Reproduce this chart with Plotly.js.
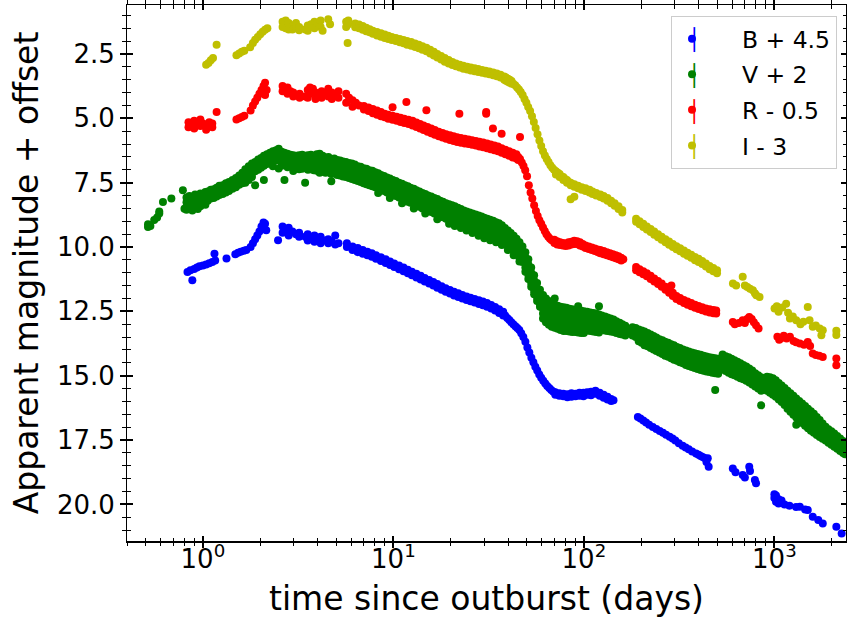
<!DOCTYPE html>
<html><head><meta charset="utf-8">
<script src="https://cdn.plot.ly/plotly-3.0.1.min.js"></script>
<style>html,body{margin:0;padding:0;background:#fff}</style>
</head><body>
<div id="chart" style="width:847px;height:626px"></div>
<script>
// ---- data: rows of [time (days), magnitude, magnitude, ...] ----
const seriesNames = ['B + 4.5', 'V + 2', 'R - 0.5', 'I - 3'];
const seriesColors = ['#0000ff', '#008000', '#ff0000', '#bfbf00'];

const rowsB = [
[0.83,10.97],[0.86,10.90],[0.88,11.29],[0.90,10.85],[0.93,10.80],[0.96,10.75],[1.00,10.72],[1.04,10.68],[1.08,10.63],[1.12,10.58],[1.15,10.26],[1.16,10.52],[1.33,10.45],
[1.48,10.28],[1.53,10.22],[1.58,10.18],[1.64,10.15],[1.69,10.12],
[1.78,10.00],[1.83,9.85],[1.88,9.70],[1.93,9.55],[1.98,9.40],[2.03,9.20],[2.08,9.05],[2.12,9.10],[2.15,9.35],[2.48,9.74],
[2.62,9.20,9.45],[2.72,9.30],[2.82,9.25,9.55],[2.95,9.40],[3.08,9.50],[3.20,9.45,9.60],
[3.45,9.60],[3.55,9.50,9.75],[3.70,9.65],[3.85,9.55,9.80],[4.00,9.70],[4.15,9.60,9.85],[4.35,9.75],[4.55,9.70,9.85],[4.75,9.80],[4.95,9.55,9.90],[5.15,9.85],
[5.7,9.85,10.0],[6.1,9.98,10.12],[6.5,10.04,10.20],[6.9,10.12,10.26],[7.3,10.18,10.32],[7.7,10.24,10.38],[8.1,10.32,10.46],[8.6,10.40,10.54],[9.1,10.48,10.62],[9.6,10.56,10.70],
[10.1,10.64,10.78],[10.7,10.72,10.86],[11.3,10.80,10.94],[11.9,10.88,11.02],[12.5,10.96,11.10],[13.2,11.04,11.18],[13.9,11.12,11.26],[14.6,11.20,11.34],[15.4,11.28,11.42],[16.2,11.36,11.50],
[17.0,11.44,11.58],[17.9,11.52,11.66],[18.8,11.60,11.74],[19.8,11.67,11.81],[20.8,11.74,11.88],[21.9,11.80,11.94],[23.0,11.86,12.00],[24.2,11.92,12.06],[25.4,11.97,12.11],[26.7,12.02,12.16],
[28.1,12.07,12.21],[29.5,12.12,12.26],[31.0,12.18,12.32],[32.6,12.25,12.39],[34.2,12.33,12.47],[35.9,12.42,12.56],[37.7,12.52,12.66],[38.6,12.66],[39.6,12.76],[40.6,12.84],
[41.6,12.92],[42.6,13.00],[43.7,13.08],[44.7,13.15],[45.8,13.22],[46.9,13.35],[48.1,13.50],[49.3,13.68],[50.5,13.90],[51.7,14.10],[53.0,14.30],[54.3,14.48],[55.6,14.65],
[56.9,14.80],[58.3,14.95],[59.7,15.08],[61.2,15.20],[62.7,15.30],[64.2,15.40],[65.8,15.48],[67.4,15.55],[69.1,15.62],[70.8,15.64,15.74],[74.3,15.68,15.78],[78.0,15.70,15.80],
[81.9,15.72,15.84],[86.0,15.68,15.82],[90.3,15.70,15.80],[94.8,15.66,15.78],[99.5,15.66,15.80],[104,15.64,15.74],[109,15.62,15.76],[115,15.58,15.70],[121,15.66,15.78],
[127,15.74,15.86],[133,15.82,15.92],[139,15.90,15.98],[143,15.95],
[192,16.60],[198,16.66],[205,16.74],[212,16.82],[220,16.90],[230,16.99],[240,17.07],[250,17.15],[260,17.22],[270,17.29],[282,17.37],[292,17.44],[302,17.52],
[315,17.62],[330,17.72],[342,17.79],[355,17.86],[370,17.94],[388,18.02],[400,18.07],[410,18.12],[420,18.16],[430,18.20],[440,18.35],[447,18.21],[452,18.54],
[605,18.60],[625,18.75],[682,18.86],[700,18.95],[738,18.54],[745,18.70],[790,19.05],[801,19.18],
[1000,19.75,19.60],[1020,19.90,19.65],[1052,19.96,19.80],[1090,19.85],[1130,20.00],[1200,20.05],[1300,20.10],[1360,20.09],[1450,20.20],[1497,20.22],[1590,20.48],[1700,20.60],[1795,20.74],[2115,20.87],[2255,21.13]
];

const rowsV = [
[0.515,9.22,9.12],[0.53,9.18],[0.555,8.95],[0.575,8.85],[0.59,8.70,8.62],[0.617,8.25],[0.683,8.12],[0.785,7.80],[0.80,8.51],
[0.82,8.08,8.26,8.44,8.55],[0.85,8.02,8.20,8.36,8.50],[0.88,8.05,8.22,8.40,8.58],[0.91,7.96,8.14,8.30,8.47],[0.94,8.00,8.18,8.35,8.52],[0.97,7.92,8.10,8.28,8.42],
[1.00,7.94,8.12,8.30],[1.03,7.86,8.04,8.22,8.36],[1.06,7.84,8.02,8.20],[1.10,7.78,7.95,8.12],[1.14,7.76,7.92,8.10],[1.18,7.70,7.86,8.04],[1.22,7.62,7.80,7.98],
[1.27,7.60,7.76,7.94],[1.32,7.52,7.70,7.88],[1.37,7.48,7.64,7.82],[1.43,7.40,7.57,7.74],[1.49,7.32,7.50,7.68],[1.55,7.22,7.40,7.58],[1.61,7.12,7.32,7.52],
[1.67,6.98,7.16,7.34,7.50],[1.74,6.86,7.05,7.24,7.40],[1.81,6.76,6.95,7.14,7.28],[1.88,6.70,6.88,7.06,7.60],[1.95,6.60,6.80,7.00],[2.02,6.54,6.72,6.92],
[2.09,6.46,6.64,6.84,7.40],[2.17,6.40,6.58,6.78],[2.25,6.34,6.54,6.74],[2.33,6.28,6.48,6.68,6.86],[2.42,6.24,6.44,6.64],[2.50,6.18,6.38,6.58,6.95],
[2.59,6.30,6.50,6.70,6.84],[2.68,6.34,6.54,6.74,7.40],[2.78,6.38,6.58,6.78,6.90],[2.88,6.42,6.62,6.82],[2.98,6.44,6.64,6.84,7.05],[3.09,6.46,6.66,6.86],
[3.20,6.44,6.64,6.84,6.98],[3.32,6.42,6.62,6.82,6.96],[3.44,6.46,6.66,6.86,7.50],[3.56,6.44,6.64,6.84,7.00],[3.69,6.42,6.62,6.82,6.98],[3.82,6.48,6.68,6.88,7.02],
[3.96,6.40,6.60,6.80,7.04],[4.10,6.38,6.58,6.78,6.98,7.12],[4.25,6.46,6.66,6.86,7.08],[4.40,6.52,6.72,6.92,7.12],[4.56,6.50,6.70,6.90,7.10],[4.72,6.58,6.78,6.98,7.16,7.45],
[4.89,6.56,6.76,6.96,7.14],[5.07,6.62,6.82,7.02,7.20],[5.25,6.64,6.84,7.04,7.22],[5.44,6.68,6.88,7.08,7.26],[5.64,6.70,6.90,7.10,7.28],[5.84,6.74,6.94,7.14,7.32],
[6.05,6.76,6.96,7.16,7.36],[6.27,6.80,7.00,7.20,7.40],[6.50,6.86,7.06,7.26,7.44],[6.73,6.88,7.08,7.28,7.48],[6.97,6.94,7.14,7.34,7.52],[7.22,6.96,7.16,7.36,7.56],
[7.48,7.02,7.22,7.42,7.60],[7.75,7.04,7.24,7.44,7.64],[8.03,7.10,7.30,7.50,7.68],[8.32,7.14,7.34,7.54,7.72,7.90],[8.62,7.20,7.40,7.60,7.78],[8.93,7.24,7.44,7.64,7.82],
[9.25,7.30,7.50,7.70,7.88],[9.58,7.34,7.54,7.74,7.92,8.10],[9.93,7.40,7.60,7.80,7.98],[10.3,7.44,7.64,7.84,8.02],[10.7,7.50,7.70,7.90,8.08],[11.1,7.54,7.74,7.94,8.12,8.30],
[11.5,7.60,7.80,8.00,8.18],[11.9,7.64,7.84,8.04,8.24],[12.3,7.70,7.90,8.10,8.28],[12.8,7.74,7.94,8.14,8.34,8.50],[13.2,7.80,8.00,8.20,8.40],[13.7,7.84,8.04,8.24,8.44],
[14.2,7.90,8.10,8.30,8.50],[14.7,7.94,8.14,8.34,8.54,8.70],[15.2,8.00,8.20,8.40,8.60],[15.8,8.04,8.24,8.44,8.64],[16.4,8.10,8.30,8.50,8.70],[17.0,8.14,8.34,8.54,8.74,8.92],
[17.6,8.20,8.40,8.60,8.80],[18.2,8.24,8.44,8.64,8.84],[18.9,8.30,8.50,8.70,8.90],[19.6,8.34,8.54,8.74,8.94,9.10],[20.3,8.38,8.58,8.78,8.98],[21.0,8.42,8.62,8.82,9.02,9.18],
[21.8,8.48,8.68,8.88,9.08],[22.6,8.52,8.72,8.92,9.12,9.26],[23.4,8.58,8.78,8.98,9.18],[24.2,8.62,8.82,9.02,9.22,9.36],[25.1,8.66,8.86,9.06,9.26],[26.0,8.70,8.90,9.10,9.30,9.46],
[27.0,8.74,8.94,9.14,9.34],[28.0,8.78,8.98,9.18,9.38,9.56],[29.0,8.82,9.02,9.22,9.42],[30.0,8.86,9.06,9.26,9.46,9.66],[31.1,8.90,9.10,9.30,9.50],[32.2,8.94,9.14,9.34,9.54,9.74],
[33.4,8.98,9.18,9.38,9.58],[34.6,9.04,9.24,9.44,9.64,9.82],[35.8,9.08,9.28,9.48,9.68],[37.1,9.16,9.36,9.56,9.76,9.92],[38.5,9.26,9.46,9.66,9.86],[39.9,9.36,9.56,9.76,9.96,10.12],
[41.3,9.46,9.66,9.86,10.06],[42.8,9.56,9.76,9.96,10.16,10.32],[44.3,9.68,9.88,10.08,10.28],[45.9,9.82,10.02,10.22,10.42,10.56],[47.6,9.98,10.18,10.38,10.58],
[49.3,10.20,10.40,10.60,10.80,10.96],[51.1,10.48,10.68,10.88,11.08,11.24],[52.9,10.80,11.00,11.20,11.40,11.54],[54.8,11.10,11.30,11.50,11.70,11.84],
[56.8,11.40,11.60,11.80,11.96,12.10],[58.8,11.66,11.86,12.04,12.20,12.32],[61.0,11.86,12.04,12.22,12.40,12.58,12.78],[63.2,12.00,12.18,12.36,12.54,12.72,12.92],
[65.5,12.10,12.28,12.46,12.64,12.82,13.02],[67.8,12.18,12.36,12.54,12.72,12.90,13.10],[70.3,12.00,12.24,12.42,12.60,12.78,12.96,13.14],[72.8,12.28,12.46,12.64,12.82,13.00,13.18],
[75.4,12.32,12.50,12.68,12.86,13.04,13.22],[78.2,12.34,12.52,12.70,12.88,13.06,13.26],[81.0,12.36,12.54,12.72,12.90,13.08,13.26],[83.9,12.40,12.58,12.76,12.94,13.12,13.28],
[86.9,12.42,12.60,12.78,12.96,13.14,13.30],[90.1,12.44,12.62,12.80,12.98,13.16,13.30],[93.3,12.30,12.46,12.64,12.82,13.00,13.18,13.32],[96.7,12.48,12.66,12.84,13.02,13.20,13.34],
[100,12.50,12.68,12.86,13.04,13.22,13.34],[104,12.52,12.70,12.88,13.06,13.24],[108,12.54,12.72,12.90,13.08,13.26],[112,12.56,12.74,12.92,13.10,13.28],[116,12.58,12.76,12.94,13.12,13.30],
[120,12.30,12.62,12.80,12.98,13.16,13.32],[124,12.66,12.84,13.02,13.20],[129,12.70,12.88,13.06,13.24],[133,12.74,12.92,13.10,13.26],[138,12.78,12.96,13.14,13.28],
[143,12.82,13.00,13.18,13.30],[148,12.88,13.06,13.22,13.34],[154,12.94,13.10,13.26,13.38],[159,13.00,13.16,13.30,13.40],[165,13.06,13.22,13.36,13.44],
[180,13.12,13.28,13.44],[187,13.15,13.32,13.50],[194,13.20,13.38,13.56,13.66],[201,13.24,13.42,13.60,13.72],[208,13.28,13.46,13.64,13.82],[216,13.34,13.52,13.70,13.86],
[224,13.40,13.58,13.76,13.92],[232,13.46,13.64,13.82,13.98],[240,13.52,13.70,13.88,14.04],[249,13.58,13.76,13.94,14.10],[258,13.62,13.80,13.98,14.16],[267,13.68,13.86,14.04,14.22],
[277,13.72,13.90,14.08,14.26],[287,13.78,13.96,14.14,14.32],[297,13.82,14.00,14.18,14.38],[308,13.88,14.06,14.24,14.42],[319,13.92,14.10,14.28,14.48],[331,13.98,14.16,14.34,14.52],
[343,14.02,14.20,14.38,14.58],[355,14.06,14.24,14.42,14.62],[368,14.10,14.28,14.46,14.66],[381,14.13,14.31,14.50,14.70],[395,14.16,14.34,14.54,14.74],[410,14.19,14.37,14.57,14.78],
[425,14.22,14.40,14.60,14.81],[440,14.25,14.43,14.63,14.84],[456,14.28,14.46,14.66,14.86],[472,14.30,14.48,14.68,14.88],[489,14.32,14.50,14.70,14.90,15.55],[507,14.34,14.52,14.72,14.92],
[535,14.18,14.36,14.56,14.76],[555,14.24,14.42,14.62,14.82],[575,14.28,14.46,14.66,14.88],[596,14.34,14.52,14.72,14.94],[617,14.40,14.58,14.78,14.98],[640,14.46,14.64,14.84,15.04],
[663,14.52,14.70,14.90,15.10],[687,14.58,14.76,14.96,15.14],[712,14.64,14.82,15.02,15.20],[738,14.72,14.90,15.08,15.26],[765,14.80,14.98,15.16,15.34],[793,14.90,15.08,15.26,15.42],
[822,14.98,15.16,15.34,15.50],[852,15.06,15.24,15.42,15.58,16.15],
[915,15.04,15.22,15.40,15.58],[948,15.06,15.26,15.46,15.66],[982,15.10,15.30,15.52,15.74],[1017,15.18,15.38,15.60,15.82],[1054,15.28,15.48,15.70,15.92],[1092,15.38,15.58,15.80,16.02],
[1131,15.48,15.70,15.92,16.14],[1172,15.58,15.80,16.04,16.28],[1214,15.68,15.90,16.14,16.40],[1258,15.78,16.00,16.26,16.52],[1303,15.88,16.10,16.36,16.62,16.90],[1350,15.98,16.22,16.48,16.74],
[1399,16.08,16.32,16.58,16.84],[1449,16.18,16.42,16.68,16.94],[1501,16.28,16.52,16.78,17.04],[1555,16.38,16.62,16.88,17.14],[1611,16.48,16.72,16.98,17.22],[1669,16.60,16.84,17.08,17.30],
[1729,16.72,16.94,17.16,17.38],[1791,16.86,17.06,17.26,17.45],[1856,16.98,17.18,17.36,17.52],[1922,17.08,17.28,17.44,17.60],[1991,17.16,17.36,17.52,17.68],[2063,17.24,17.44,17.60,17.76],
[2137,17.34,17.52,17.68,17.84],[2214,17.44,17.62,17.78,17.92],[2294,17.54,17.72,17.88,18.00],[2350,17.64,17.82,17.96,18.05]
];

const rowsR = [
[0.84,5.15,5.35],[0.87,5.25],[0.90,5.10,5.40],[0.93,5.20],[0.97,5.30,5.05],[1.00,5.20],[1.04,5.25,5.45],[1.08,5.15],[1.12,5.20,5.35],[1.18,4.76],
[1.50,5.05],[1.55,5.00],[1.60,4.95],[1.65,4.90],
[1.78,4.70],[1.83,4.50],[1.88,4.35],[1.93,4.20],[1.98,4.05],[2.03,3.90],[2.08,3.75],[2.12,3.62,4.10],[2.16,3.90],
[2.62,3.75,3.95],[2.70,3.85],[2.78,3.80,4.05],[2.88,3.95],[2.98,4.00,4.15],[3.10,4.10],[3.22,4.05,4.20],
[3.45,4.15],[3.55,3.90,4.20],[3.65,3.80,4.05],[3.78,3.85],[3.90,4.00,4.25],[4.05,4.10],[4.20,3.95,4.20],[4.40,4.05],[4.55,3.85,4.15],[4.75,4.00,4.25],[4.95,4.10],[5.15,3.95,4.20],
[5.65,4.05,4.40],[5.85,4.20],[6.10,4.30,4.55],[6.35,4.40],[6.60,4.50],
[7.0,4.52,4.66],[7.4,4.58,4.72],[7.8,4.64,4.80],[8.2,4.70,4.86],[8.6,4.76,4.92],[9.0,4.82,4.96],[9.4,4.86,5.02],[9.9,4.57,4.90,5.06],[10.4,4.94,5.10],[10.9,4.98,5.14],
[11.4,5.02,5.18],[11.7,4.37],[12.0,5.06,5.22],[12.6,5.10,5.28],[13.2,5.16,5.34],[13.8,5.22,5.40],[14.4,5.28,5.46],[14.9,4.69],[15.1,5.34,5.52],[15.8,5.40,5.58],
[16.5,5.46,5.64],[17.3,5.52,5.70],[18.1,5.57,5.75],[18.9,5.62,5.80],[19.8,5.66,5.84],[20.7,5.70,5.88],[21.6,5.74,5.92],[22.2,4.82],[22.6,5.77,5.95],[23.7,5.80,5.98],
[24.8,5.82,6.00],[25.9,5.85,6.03],[27.1,5.88,6.06],[28.3,5.91,6.10],[29.6,5.94,6.13],[30.7,4.76,4.82],[31.0,5.98,6.16],[32.4,6.02,6.20],[33.3,5.40],[33.9,6.06,6.24],
[35.4,6.10,6.28],[37.0,6.16,6.34,5.60],[38.7,6.22,6.40],[40.5,6.28,6.46],[42.3,6.34,6.52],[44.2,6.40,6.56],[45.2,6.50,6.62],[46.2,6.58,5.73],[47.2,6.72],[48.2,6.85],
[49.2,7.02],[50.3,7.25],[51.4,7.60],[52.5,7.88],[53.6,8.12],[54.8,8.38],[56.0,8.60],[57.2,8.80],[58.4,8.96],[59.7,9.10],[61.0,9.24],[62.3,9.38],[63.6,9.50],
[65.0,9.60],[66.4,9.68],[67.8,9.74],[70.0,9.72,9.84],[72.4,9.78,9.90],[75.0,9.82,9.92],[77.6,9.84,9.94],[80.3,9.86,9.96],[83.1,9.82,9.94],[86.0,9.80,9.90],
[89.0,9.76,9.88],[92.1,9.78,9.88],[95.3,9.82,9.94],[98.6,9.88,9.98],[102,9.94,10.04],[106,9.98,10.08],[110,10.02,10.12],[114,10.06,10.16],[118,10.10,10.20],
[122,10.12,10.24],[127,10.16,10.28],[132,10.20,10.32],[137,10.24,10.36],[142,10.28,10.40],[147,10.32,10.44],[152,10.36,10.48],[157,10.42,10.52],[161,10.48],
[188,10.78,10.90],[196,10.86,10.98],[205,10.94,11.06],[214,11.02,11.14],[224,11.12,11.24],[234,11.22,11.34],[245,11.32,11.44],[256,11.42,11.54],[268,11.54,11.66],
[280,11.66,11.78],[288,11.50],[293,11.78,11.90],[306,11.90,12.02],[320,11.98,12.10],[335,12.06,12.18],[350,12.12,12.24],[366,12.18,12.30],[383,12.24,12.36],
[400,12.29,12.41],[418,12.34,12.46],[437,12.39,12.51],[457,12.42,12.54],[478,12.45,12.57],[495,12.47,12.58],
[605,12.91],[620,13.00],[650,12.95],[682,12.85],[700,12.95],[720,12.80],[738,12.72],[760,12.80],[780,12.92],[801,13.04],[826,13.17],
[1037,13.49],[1060,13.60],[1080,13.55],[1120,13.45],[1160,13.55],[1207,13.49],[1260,13.65],[1300,13.70],[1360,13.75],[1430,13.80],[1497,13.69],[1540,13.85],
[1590,14.14],[1650,14.20],[1720,14.22],[1795,14.27],[2115,14.33,14.59]
];

const rowsI = [
[1.04,2.92],[1.07,2.85],[1.10,2.75],[1.13,2.66],[1.18,2.14],
[1.50,2.55],[1.55,2.48],[1.60,2.42],[1.65,2.38],
[1.77,2.24],[1.83,2.08],[1.88,1.95],[1.94,1.84],[2.00,1.74],[2.06,1.64],[2.12,1.56],[2.18,1.50],
[2.62,1.25,1.45],[2.72,1.20,1.50],[2.82,1.30,1.55],[2.95,1.40,1.55],[3.08,1.50,1.30],[3.20,1.45,1.58],
[3.45,1.55],[3.55,1.40,1.60],[3.70,1.35],[3.85,1.25,1.50],[4.00,1.30],[4.15,1.20,1.45],[4.25,1.60],
[4.55,1.15],[4.65,1.35],[5.65,1.25,1.45],[5.75,2.08],[5.80,1.20,1.35],
[6.3,1.32,1.46],[6.6,1.36,1.50],[6.9,1.42,1.56],[7.2,1.48,1.62],[7.5,1.54,1.66],[7.8,1.60,1.72],[8.2,1.65,1.78],[8.6,1.70,1.83],[9.0,1.75,1.88],[9.4,1.79,1.92],
[9.8,1.84,1.96],[10.3,1.88,2.00],[10.8,1.92,2.05],[11.3,1.96,2.09],[11.8,2.00,2.14],[12.4,2.04,2.18],[13.0,2.10,2.23],[13.6,2.14,2.28],[14.2,2.20,2.34],[14.9,2.26,2.40],
[15.6,2.34,2.48],[16.3,2.42,2.56],[17.0,2.50,2.64],[17.8,2.58,2.72],[18.6,2.66,2.80],[19.5,2.74,2.87],[20.4,2.81,2.93],[21.3,2.87,2.98],[22.3,2.92,3.03],[23.3,2.96,3.08],
[24.4,3.00,3.11],[25.5,3.03,3.14],[26.7,3.06,3.17],[27.9,3.09,3.20],[29.2,3.12,3.23],[30.5,3.15,3.26],[31.9,3.18,3.29],[33.4,3.22,3.33],[34.9,3.26,3.37],[36.5,3.31,3.42],
[38.2,3.38,3.50],[39.0,3.42,3.54],[39.9,3.46,3.58],[40.8,3.50,3.62],[41.7,3.55,3.66],[42.6,3.66],[43.6,3.72],[44.6,3.80],[45.6,3.88],[46.6,3.98],[47.7,4.10],
[48.8,4.25],[49.9,4.40],[51.0,4.56],[52.2,4.72],[53.4,4.92],[54.6,5.14],[55.8,5.38],[57.1,5.62],[58.4,5.86],[59.7,6.08],[61.0,6.28],[62.4,6.45],[63.8,6.58],
[65.2,6.70],[66.7,6.82],[68.2,6.92],[69.7,7.00],[71.3,7.06,7.18],[73.0,7.12],[74.6,7.16,7.28],[76.3,7.26],[78.0,7.28,7.40],[79.7,7.36],[81.5,7.40,7.50],[83.3,7.48],
[85.2,7.50,7.60,8.15],[87.1,7.56],[89.1,7.56,7.66,8.05],[91.1,7.64],[93.2,7.62,7.72],[95.3,7.70],[97.4,7.68,7.78],[102,7.72,7.82],[107,7.78,7.88],[111,7.84,7.94],
[116,7.90,8.00],[122,7.96,8.06],[127,8.02,8.12],[133,8.10,8.20],[139,8.20,8.30],[145,8.30,8.40],[152,8.42,8.52],[159,8.56,8.66],
[188,8.90,9.02],[196,9.00,9.12],[205,9.10,9.22],[214,9.20,9.32],[224,9.30,9.42],[234,9.40,9.52],[245,9.50,9.62],[256,9.60,9.72],[268,9.70,9.82],[280,9.79,9.91],
[293,9.88,10.00],[306,9.97,10.09],[320,10.05,10.17],[335,10.14,10.26],[350,10.22,10.34],[366,10.30,10.42],[383,10.39,10.51],[400,10.46,10.58],[418,10.54,10.66],
[437,10.64,10.76],[457,10.74,10.86],[478,10.82,10.94],[500,10.90,11.02],
[606,11.42],[630,11.50],[682,11.16],[700,11.50],[721,11.55],[745,11.62],[771,11.68],[790,11.80],[804,11.87],[836,11.94],
[1002,12.39],[1030,12.30],[1052,12.52],[1100,12.35],[1153,12.20],[1180,12.55],[1207,12.78],[1250,12.70],[1302,12.85],[1370,13.00],[1420,12.90],
[1497,12.33],[1530,12.85],[1590,13.10],[1650,13.05],[1730,13.17],[1765,13.43],[1795,13.23],[2115,13.25,13.42]
];

const xTickVals = [1, 10, 100, 1000];
const xTickText = ['10<sup>0</sup>', '10<sup>1</sup>', '10<sup>2</sup>', '10<sup>3</sup>'];
const xLogRange = [-0.3985, 3.376];
const yRange = [21.42, 0.6];

// ---- build ----
function flatten(rows) {
  const x = [], y = [];
  rows.forEach(r => { for (let i = 1; i < r.length; i++) { x.push(r[0]); y.push(r[i]); } });
  return {x, y};
}
const allRows = [rowsB, rowsV, rowsR, rowsI];
const traces = allRows.map((rows, k) => {
  const d = flatten(rows);
  return {
    type: 'scatter', mode: 'markers', x: d.x, y: d.y,
    name: '\u00a0\u00a0\u00a0\u00a0' + seriesNames[k], legendgroup: 'g' + k,
    marker: {color: seriesColors[k], size: 8, line: {width: 0}},
    hoverinfo: 'skip'
  };
});
traces.push({type: 'scatter', mode: 'markers', x: [null], y: [null], xaxis: 'x2', yaxis: 'y2',
  showlegend: false, hoverinfo: 'skip'});

const xMinor = [];
for (let d = -1; d <= 3; d++) for (let k = 2; k <= 9; k++) {
  const v = k * Math.pow(10, d);
  if (Math.log10(v) > xLogRange[0] && Math.log10(v) < xLogRange[1]) xMinor.push(v);
}

const FONT = 'DejaVu Sans, sans-serif';
const black = '#000000';
const baseX = {
  type: 'log', range: xLogRange, autorange: false, showgrid: false, zeroline: false,
  tickmode: 'array', tickvals: xTickVals, ticktext: xTickText, tickcolor: black,
  ticklen: 5, tickwidth: 2, mirror: 'allticks',
  minor: {tickmode: 'array', tickvals: xMinor, ticklen: 3.5, tickwidth: 1, tickcolor: black, showgrid: false}
};
const baseY = {
  range: yRange, autorange: false, showgrid: false, zeroline: false,
  tickmode: 'linear', tick0: 0, dtick: 2.5, tickformat: '.1f', tickcolor: black,
  ticklen: 5.5, tickwidth: 2, mirror: 'allticks',
  minor: {tick0: 0, dtick: 0.5, ticklen: 3.5, tickwidth: 1, tickcolor: black, showgrid: false}
};

// legend error-bar glyphs (legend decoration, paper coordinates)
const legendBarY = [0.934, 0.868, 0.801, 0.735];
const annotations = seriesColors.map((c, k) => ({
  xref: 'paper', yref: 'paper', x: 0.7886, y: legendBarY[k], xanchor: 'center', yanchor: 'middle',
  text: '\u2502', showarrow: false, font: {family: FONT, size: 21, color: c}
}));

const layout = {
  width: 847, height: 626,
  margin: {l: 127, r: 1, t: 5, b: 85},
  paper_bgcolor: '#ffffff', plot_bgcolor: '#ffffff',
  font: {family: FONT, color: black},
  showlegend: true,
  legend: {
    x: 0.9875, xanchor: 'right', y: 0.9795, yanchor: 'top',
    bgcolor: '#ffffff', bordercolor: '#cccccc', borderwidth: 1,
    font: {family: FONT, size: 23.5, color: black},
    traceorder: 'grouped', tracegroupgap: 2, itemwidth: 30
  },
  annotations: annotations,
  xaxis: Object.assign({}, baseX, {
    ticks: 'outside', showline: true, linecolor: black, linewidth: 1.5,
    tickfont: {family: FONT, size: 26, color: black}, ticklabelstandoff: -11,
    minor: Object.assign({}, baseX.minor, {ticks: 'outside'}),
    title: {text: 'time since outburst (days)', font: {family: FONT, size: 33, color: black}, standoff: 14}
  }),
  xaxis2: Object.assign({}, baseX, {
    overlaying: 'x', anchor: 'y2', ticks: 'inside', showline: false, showticklabels: false,
    minor: Object.assign({}, baseX.minor, {ticks: 'inside'})
  }),
  yaxis: Object.assign({}, baseY, {
    ticks: 'outside', showline: true, linecolor: black, linewidth: 1.5,
    tickfont: {family: FONT, size: 26, color: black},
    minor: Object.assign({}, baseY.minor, {ticks: 'outside'}),
    title: {text: 'Apparent magnitude + offset', font: {family: FONT, size: 33, color: black}, standoff: 8}
  }),
  yaxis2: Object.assign({}, baseY, {
    overlaying: 'y', anchor: 'x2', ticks: 'inside', showline: false, showticklabels: false,
    minor: Object.assign({}, baseY.minor, {ticks: 'inside'})
  })
};

Plotly.newPlot('chart', traces, layout, {staticPlot: true, displayModeBar: false});
</script>
</body></html>
